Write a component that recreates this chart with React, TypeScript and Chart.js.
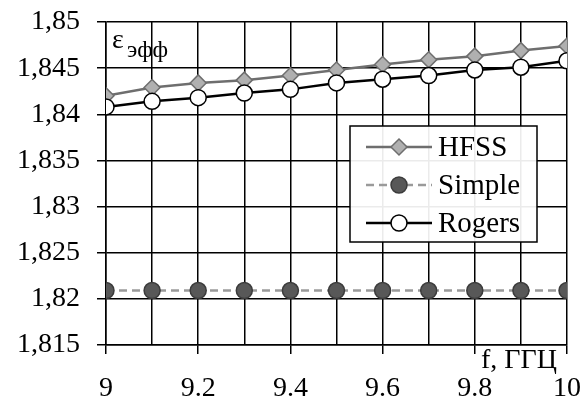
import React, { useEffect, useRef } from "react";
import { Chart, registerables } from "chart.js";

Chart.register(...registerables);

const freqs = [9, 9.1, 9.2, 9.3, 9.4, 9.5, 9.6, 9.7, 9.8, 9.9, 10];
const hfss = [1.842, 1.8429, 1.8434, 1.8437, 1.8442, 1.8448, 1.8454, 1.8459, 1.8463, 1.8469, 1.8474];
const simple = [1.8209, 1.8209, 1.8209, 1.8209, 1.8209, 1.8209, 1.8209, 1.8209, 1.8209, 1.8209, 1.8209];
const rogers = [1.8408, 1.8414, 1.8418, 1.8423, 1.8427, 1.8434, 1.8438, 1.8442, 1.8448, 1.8451, 1.8458];
const seriesNames = ["HFSS", "Simple", "Rogers"];
const yLabel = "ε";
const ySub = "эфф";
const xLabel = "f, ГГЦ";

const FONT = "'Liberation Serif', 'Times New Roman', serif";

const pts = (ys: number[]) => freqs.map((x, i) => ({ x, y: ys[i] }));

const legendPlugin = {
  id: "customLegend",
  afterDraw(chart: any) {
    const ctx = chart.ctx;
    const area = chart.chartArea;
    ctx.save();
    // annotations
    ctx.fillStyle = "#000";
    ctx.textBaseline = "alphabetic";
    ctx.textAlign = "left";
    ctx.font = `28px ${FONT}`;
    ctx.fillText(yLabel, area.left + 6, area.top + 26);
    ctx.font = `24px ${FONT}`;
    ctx.fillText(ySub, area.left + 21, area.top + 35);
    ctx.font = `28px ${FONT}`;
    ctx.fillText(xLabel, area.right - 86, area.bottom + 23);

    // legend box
    const bx = 350, by = 126, bw = 187, bh = 116;
    ctx.fillStyle = "rgba(255,255,255,0.92)";
    ctx.fillRect(bx, by, bw, bh);
    ctx.strokeStyle = "#000";
    ctx.lineWidth = 1.5;
    ctx.strokeRect(bx, by, bw, bh);
    const rows = [147, 185, 223];
    chart.data.datasets.forEach((ds: any, i: number) => {
      const y = rows[i];
      ctx.save();
      ctx.strokeStyle = ds.borderColor;
      ctx.lineWidth = ds.borderWidth;
      ctx.setLineDash(ds.borderDash || []);
      ctx.beginPath();
      ctx.moveTo(366, y);
      ctx.lineTo(432, y);
      ctx.stroke();
      ctx.restore();
      ctx.save();
      ctx.fillStyle = ds.pointBackgroundColor;
      ctx.strokeStyle = ds.pointBorderColor;
      ctx.lineWidth = ds.pointBorderWidth;
      const r = ds.pointRadius;
      ctx.beginPath();
      if (ds.pointStyle === "rectRot") {
        ctx.moveTo(399, y - r);
        ctx.lineTo(399 + r, y);
        ctx.lineTo(399, y + r);
        ctx.lineTo(399 - r, y);
        ctx.closePath();
      } else {
        ctx.arc(399, y, r, 0, Math.PI * 2);
      }
      ctx.fill();
      ctx.stroke();
      ctx.restore();
      ctx.fillStyle = "#000";
      ctx.font = `29px ${FONT}`;
      ctx.textBaseline = "middle";
      ctx.fillText(ds.label, 438, y + 1);
    });
    ctx.restore();
  },
};

export default function App() {
  const ref = useRef<HTMLCanvasElement | null>(null);
  useEffect(() => {
    document.body.style.margin = "0";
    const chart = new Chart(ref.current as HTMLCanvasElement, {
      type: "line",
      data: {
        datasets: [
          {
            label: seriesNames[0],
            data: pts(hfss),
            borderColor: "#6e6e6e",
            borderWidth: 2.5,
            pointStyle: "rectRot",
            pointRadius: 8,
            pointBackgroundColor: "#b0b0b0",
            pointBorderColor: "#6e6e6e",
            pointBorderWidth: 1.5,
            order: 1,
          },
          {
            label: seriesNames[1],
            data: pts(simple),
            borderColor: "#9a9a9a",
            borderWidth: 2.5,
            borderDash: [8, 5],
            pointStyle: "circle",
            pointRadius: 8,
            pointBackgroundColor: "#585858",
            pointBorderColor: "#3c3c3c",
            pointBorderWidth: 1.5,
            order: 2,
          },
          {
            label: seriesNames[2],
            data: pts(rogers),
            borderColor: "#000000",
            borderWidth: 2.5,
            pointStyle: "circle",
            pointRadius: 8,
            pointBackgroundColor: "#ffffff",
            pointBorderColor: "#000000",
            pointBorderWidth: 1.5,
            order: 0,
          },
        ] as any,
      },
      options: {
        animation: false,
        responsive: false,
        devicePixelRatio: 1,
        layout: { padding: { top: 22, right: 15, left: 0, bottom: 0 } },
        plugins: { legend: { display: false }, tooltip: { enabled: false } },
        elements: { line: { tension: 0 } },
        scales: {
          x: {
            type: "linear",
            min: 9,
            max: 10,
            afterFit: (s: any) => {
              s.height = 55;
              s.paddingLeft = 0;
              s.paddingRight = 0;
            },
            ticks: {
              stepSize: 0.1,
              autoSkip: false,
              maxRotation: 0,
              padding: 18,
              color: "#000",
              font: { family: FONT, size: 28 },
              callback: (v: any, i: number) => (i % 2 === 0 ? String(Number(Number(v).toFixed(1))) : ""),
            },
            grid: {
              color: "#000",
              lineWidth: 1.5,
              tickLength: 9,
              tickColor: (c: any) => (c.index % 2 === 0 ? "#000" : "rgba(0,0,0,0)"),
            },
            border: { display: true, color: "#000", width: 1.5 },
          },
          y: {
            type: "linear",
            min: 1.815,
            max: 1.85,
            afterFit: (s: any) => {
              s.width = 106;
              s.paddingTop = 0;
              s.paddingBottom = 0;
            },
            ticks: {
              stepSize: 0.005,
              padding: 17,
              color: "#000",
              font: { family: FONT, size: 28 },
              callback: (v: any) => String(Number(Number(v).toFixed(3))).replace(".", ","),
            },
            grid: { color: "#000", lineWidth: 1.5, tickLength: 9, tickColor: "#000" },
            border: { display: true, color: "#000", width: 1.5 },
          },
        },
      } as any,
      plugins: [legendPlugin],
    });
    return () => chart.destroy();
  }, []);
  return (
    <div style={{ position: "fixed", left: 0, top: 0, width: 582, height: 400, background: "#fff" }}>
      <canvas ref={ref} width={582} height={400} />
    </div>
  );
}
